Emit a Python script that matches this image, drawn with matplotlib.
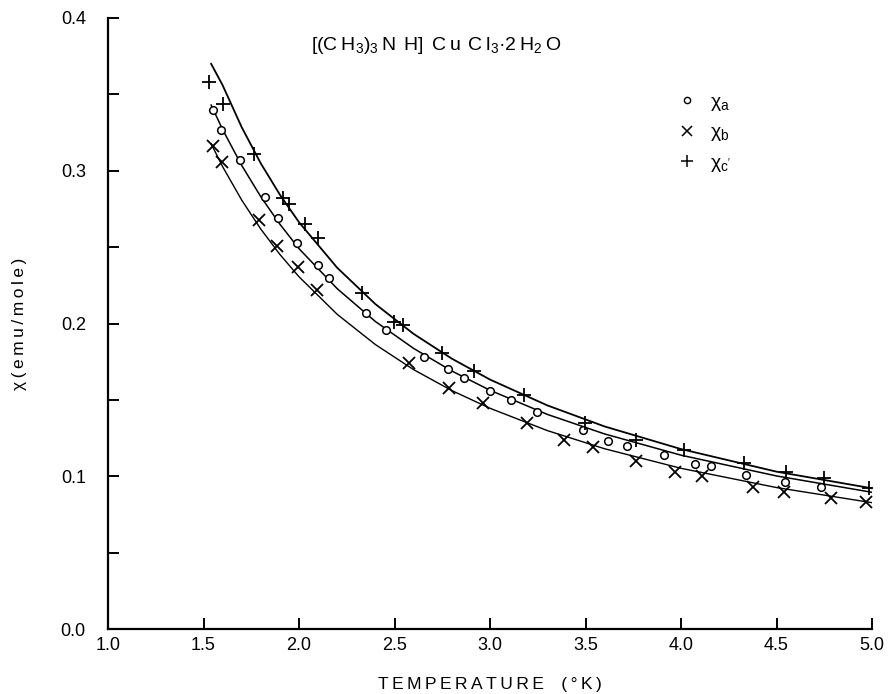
import matplotlib
matplotlib.use("Agg")
import matplotlib.pyplot as plt
from matplotlib.lines import Line2D

plt.rcParams['font.family'] = ['Liberation Sans', 'DejaVu Sans']
plt.rcParams['mathtext.fontset'] = 'custom'
plt.rcParams['mathtext.rm'] = 'Liberation Sans'
plt.rcParams['mathtext.it'] = 'Liberation Sans'

# ---- data ----
T_a = [1.552, 1.590, 1.691, 1.821, 1.891, 1.992, 2.102, 2.155, 2.350, 2.456, 2.657,
       2.779, 2.864, 3.001, 3.109, 3.245, 3.486, 3.617, 3.717, 3.909, 4.071, 4.157,
       4.340, 4.546, 4.735]
chi_a = [0.340, 0.327, 0.307, 0.283, 0.269, 0.253, 0.238, 0.230, 0.207, 0.196, 0.178,
         0.170, 0.164, 0.156, 0.150, 0.142, 0.130, 0.123, 0.120, 0.114, 0.108, 0.107,
         0.101, 0.096, 0.093]

T_b = [1.548, 1.595, 1.791, 1.883, 1.993, 2.096, 2.577, 2.786, 2.962, 3.193, 3.385,
       3.537, 3.764, 3.970, 4.110, 4.377, 4.537, 4.785, 4.969]
chi_b = [0.316, 0.306, 0.268, 0.251, 0.237, 0.222, 0.174, 0.158, 0.148, 0.135, 0.124,
         0.119, 0.110, 0.103, 0.100, 0.093, 0.090, 0.086, 0.083]

T_c = [1.531, 1.601, 1.766, 1.915, 1.950, 2.032, 2.102, 2.329, 2.498, 2.547, 2.751,
       2.914, 3.176, 3.495, 3.766, 4.014, 4.328, 4.552, 4.747, 4.986]
chi_c = [0.358, 0.344, 0.311, 0.282, 0.278, 0.265, 0.256, 0.220, 0.201, 0.199, 0.181,
         0.169, 0.153, 0.135, 0.124, 0.117, 0.109, 0.103, 0.099, 0.092]

# fitted curves
T_fit = [1.54, 1.60, 1.70, 1.80, 1.90, 2.00, 2.20, 2.40, 2.60, 2.80, 3.00, 3.30, 3.60,
         4.00, 4.50, 5.00]
fit_a = [0.343, 0.327, 0.3035, 0.283, 0.265, 0.249, 0.2228, 0.2013, 0.1837, 0.1689,
         0.1563, 0.1405, 0.1277, 0.1138, 0.1002, 0.0895]
fit_b = [0.3177, 0.3027, 0.2808, 0.2618, 0.2452, 0.2306, 0.2060, 0.1862, 0.1698, 0.1561,
         0.1445, 0.1299, 0.1180, 0.1052, 0.0926, 0.0827]
fit_c = [0.370, 0.356, 0.3285, 0.3048, 0.2843, 0.2663, 0.2365, 0.2127, 0.1932, 0.1770,
         0.1633, 0.1464, 0.1326, 0.1178, 0.1030, 0.0921]

xticks = [1.0, 1.5, 2.0, 2.5, 3.0, 3.5, 4.0, 4.5, 5.0]
yticks = [0.0, 0.1, 0.2, 0.3, 0.4]
yminor = [0.05, 0.15, 0.25, 0.35]

title = ("[(C\u2009H$_{3}$)$_{3}$\u2009N\u2009\u2009H]\u2009\u2009C\u2009u\u2009\u2009C\u2009l$_{3}$"
         "\u00b72\u2009H$_{2}$\u2009O")
labels = ["χ$_{\\mathrm{a}}$", "χ$_{\\mathrm{b}}$", "χ$_{\\mathrm{c'}}$"]


def spaced(s):
    return "\u2009".join(s)


W, H = 891, 694
fig = plt.figure(figsize=(W / 100, H / 100), dpi=100)
ax = fig.add_axes([108 / W, (H - 629) / H, (872 - 108) / W, (629 - 18) / H])

ax.plot(T_fit, fit_c, color='black', lw=1.3)
ax.plot(T_fit, fit_a, color='black', lw=1.1)
ax.plot(T_fit, fit_b, color='black', lw=1.0)

ax.plot(T_a, chi_a, linestyle='none', marker='o', ms=5.5, mfc='white', mec='black', mew=1.1)
ax.plot(T_b, chi_b, linestyle='none', marker='x', ms=9, mec='black', mew=1.3)
ax.plot(T_c, chi_c, linestyle='none', marker='+', ms=10, mec='black', mew=1.3)

ax.set_xlim(1.0, 5.0)
ax.set_ylim(0.0, 0.4)
for s in ['top', 'right']:
    ax.spines[s].set_visible(False)
for s in ['left', 'bottom']:
    ax.spines[s].set_linewidth(1.6)

ax.set_xticks(xticks)
ax.set_xticklabels([f"{v:.1f}" for v in xticks])
ax.set_yticks(yticks)
ax.set_yticklabels([f"{v:.1f}" for v in yticks])
ax.set_yticks(yminor, minor=True)
ax.tick_params(axis='both', which='both', direction='in', length=8, width=1.4,
               labelsize=13)
ax.tick_params(axis='x', pad=6)
ax.tick_params(axis='y', pad=16)

ax.set_xlabel(spaced("TEMPERATURE") + "\u2003" + spaced("(°K)"), fontsize=12.5, labelpad=16)
ax.set_ylabel("χ\u2009" + spaced("(emu/mole)"), fontsize=12.5, labelpad=24)

ax.text(2.72, 0.382, title, fontsize=14, ha='center', va='center')

handles = [
    Line2D([], [], linestyle='none', marker='o', ms=4.5, mfc='white', mec='black', mew=1.0),
    Line2D([], [], linestyle='none', marker='x', ms=7, mec='black', mew=1.1),
    Line2D([], [], linestyle='none', marker='+', ms=8, mec='black', mew=1.1),
]
ax.legend(handles, labels, loc='upper left', bbox_to_anchor=(0.722, 0.905),
          frameon=False, fontsize=14, handlelength=1.0, handletextpad=0.7,
          labelspacing=0.55)

fig.savefig("out.png", dpi=100)
